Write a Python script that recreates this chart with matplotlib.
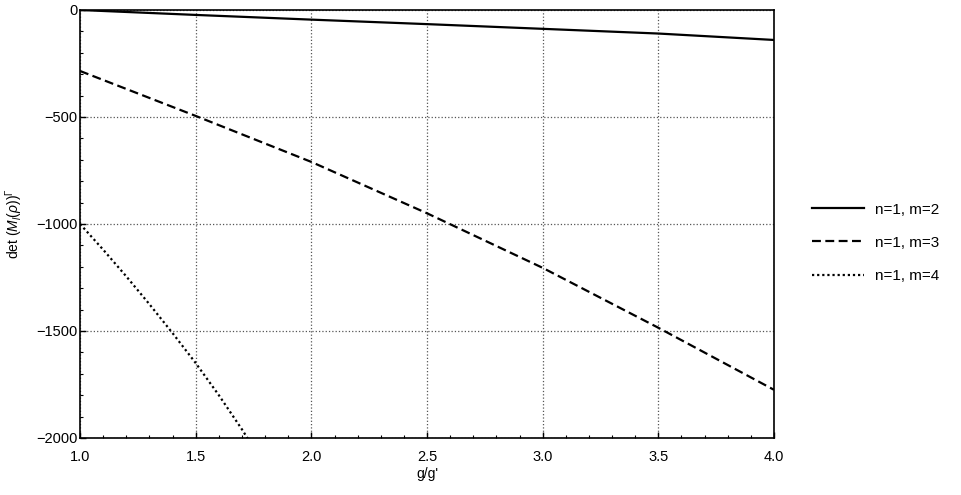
import numpy as np
import matplotlib
matplotlib.use("Agg")
import matplotlib.pyplot as plt
from matplotlib.ticker import MultipleLocator

plt.rcParams['font.family'] = ['Liberation Sans', 'DejaVu Sans']
plt.rcParams['mathtext.fontset'] = 'custom'
plt.rcParams['mathtext.it'] = 'Liberation Sans:italic'
plt.rcParams['mathtext.rm'] = 'Liberation Sans'

# data
g_m2 = [1.0, 1.5, 2.0, 2.5, 3.0, 3.5, 4.0]
det_m2 = [0, -23, -45, -66, -88, -110, -140]

g_m3 = [1.0, 1.5, 2.0, 2.5, 3.0, 3.5, 4.0]
det_m3 = [-285, -495, -710, -950, -1205, -1485, -1775]

g_m4 = [1.0, 1.1, 1.2, 1.3, 1.4, 1.5, 1.6, 1.7, 1.75]
det_m4 = [-1000, -1120, -1245, -1375, -1510, -1650, -1800, -1960, -2045]

labels = ["n=1, m=2", "n=1, m=3", "n=1, m=4"]

fig = plt.figure(figsize=(9.62, 4.95), dpi=100)
ax = fig.add_axes([0.0832, 0.1152, 0.7214, 0.8646])

ax.plot(g_m2, det_m2, color='black', lw=1.6, linestyle='-', label=labels[0])
ax.plot(g_m3, det_m3, color='black', lw=1.6, linestyle=(0, (4, 2)), label=labels[1])
ax.plot(g_m4, det_m4, color='black', lw=1.6, linestyle=(0, (1, 1.3)), label=labels[2])

ax.set_xlim(1.0, 4.0)
ax.set_ylim(-2000, 0)
ax.xaxis.set_major_locator(MultipleLocator(0.5))
ax.xaxis.set_minor_locator(MultipleLocator(0.1))
ax.yaxis.set_major_locator(MultipleLocator(500))
ax.yaxis.set_minor_locator(MultipleLocator(100))
ax.xaxis.set_major_formatter(plt.FormatStrFormatter('%.1f'))

ax.tick_params(which='both', direction='in', labelsize=10.5)
ax.tick_params(axis='y', pad=2)
ax.tick_params(axis='x', pad=9)
ax.tick_params(which='major', length=4, width=1)
ax.tick_params(which='minor', length=2.5, width=0.8)

ax.grid(True, which='major', linestyle=':', color='#555555', lw=0.9)
for s in ax.spines.values():
    s.set_linewidth(1.2)

ax.set_xlabel("g/g'", fontsize=10, labelpad=2)
ax.set_ylabel(r"det ($M_l(\rho)$)$^\Gamma$", fontsize=10, labelpad=8)

ax.legend(loc='center left', bbox_to_anchor=(1.035, 0.456), frameon=False,
          fontsize=11, handlelength=3.4, handletextpad=0.7, labelspacing=1.25)

fig.savefig('out.png', dpi=100)
